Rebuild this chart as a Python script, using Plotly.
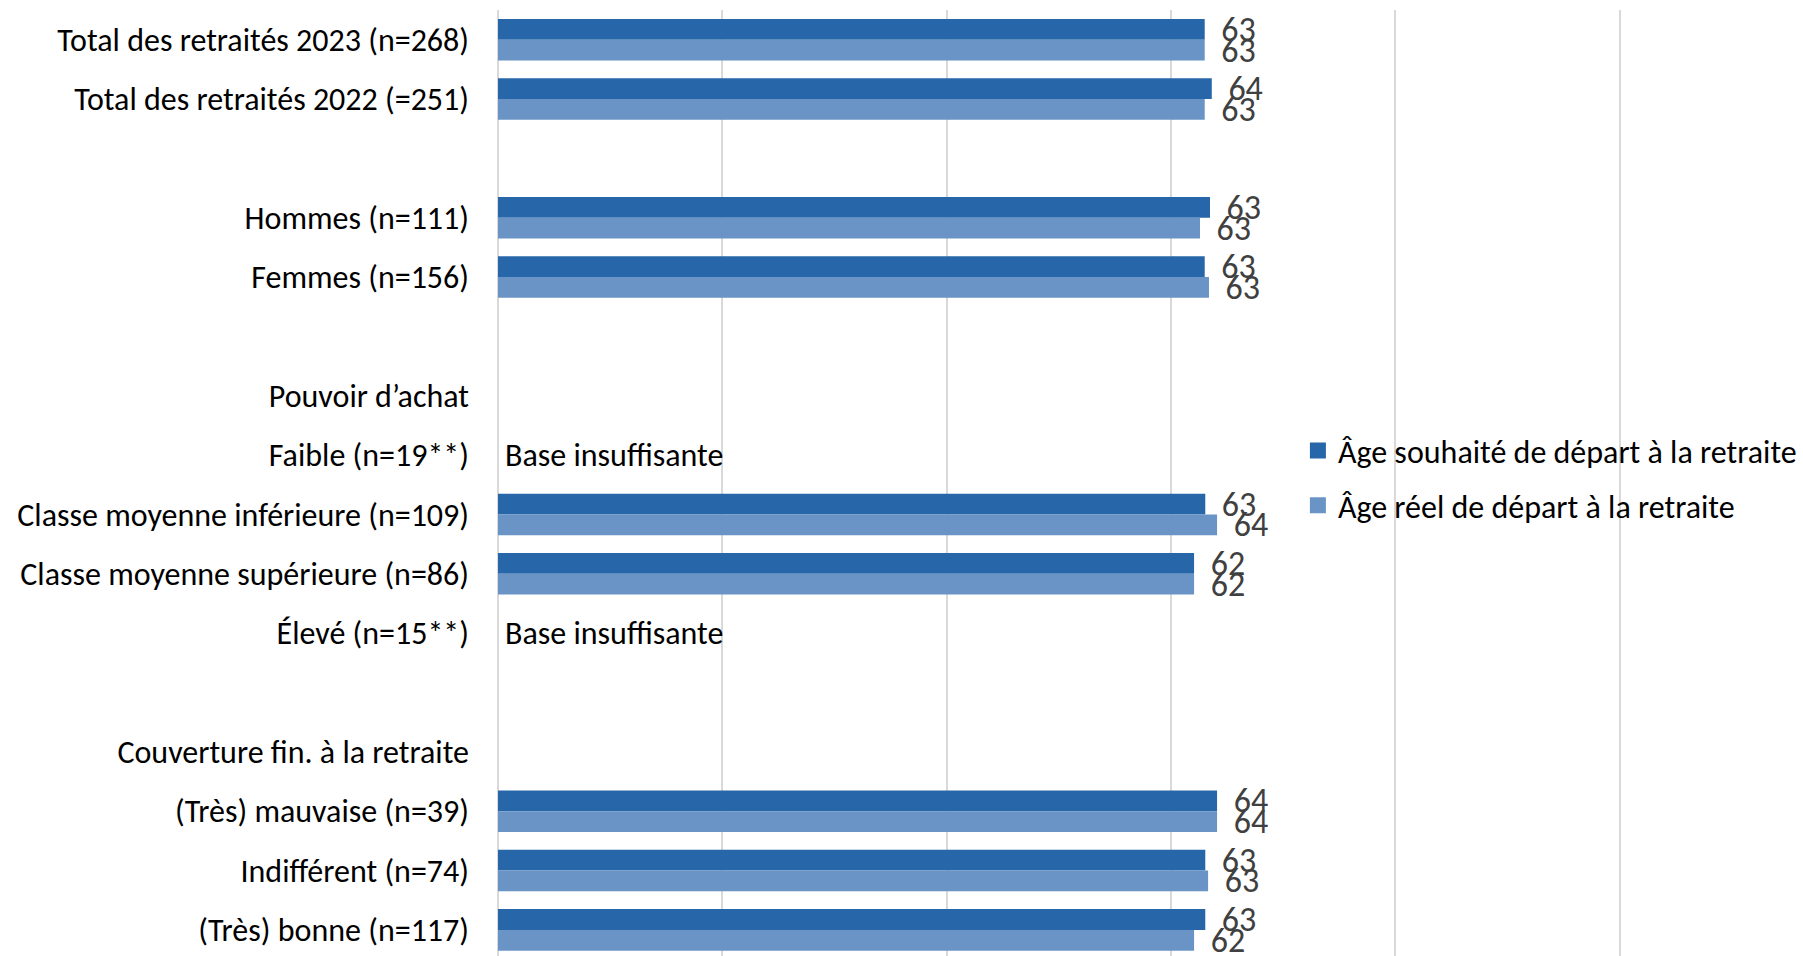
import plotly.graph_objects as go

categories = [
    "Total des retraités 2023 (n=268)",
    "Total des retraités 2022 (=251)",
    " ",
    "Hommes (n=111)",
    "Femmes (n=156)",
    "  ",
    "Pouvoir d’achat",
    "Faible (n=19**)",
    "Classe moyenne inférieure (n=109)",
    "Classe moyenne supérieure (n=86)",
    "Élevé (n=15**)",
    "   ",
    "Couverture fin. à la retraite",
    "(Très) mauvaise (n=39)",
    "Indifférent (n=74)",
    "(Très) bonne (n=117)",
]
age_souhaite = [63.0, 63.63, None, 63.47, 63.0, None, None, None, 63.05, 62.05, None, None, None, 64.1, 63.05, 63.05]
age_reel = [63.0, 63.0, None, 62.58, 63.38, None, None, None, 64.1, 62.05, None, None, None, 64.1, 63.3, 62.05]
insufficient = ["Faible (n=19**)", "Élevé (n=15**)"]
insufficient_text = "Base insuffisante"

series_names = ["Âge souhaité de départ à la retraite", "Âge réel de départ à la retraite"]
colors = ["#2766A9", "#6A94C6"]

FONT = "Carlito, Lato, sans-serif"
FS = 32
FS_VAL = 34

fig = go.Figure()
for name, vals, col, grp in zip(series_names, [age_souhaite, age_reel], colors, ["a", "b"]):
    fig.add_trace(go.Bar(
        y=categories, x=vals, orientation="h", name=name,
        marker=dict(color=col, line=dict(width=0)),
        text=[("\u2009\u2009" + f"{v:.0f}") if v is not None else "" for v in vals],
        textposition="outside", constraintext="none", cliponaxis=False,
        textfont=dict(family=FONT, size=FS_VAL, color="#404040"),
        legendgroup=grp, showlegend=False,
    ))
    # legend entry with a larger square swatch
    fig.add_trace(go.Scatter(
        x=[None], y=[None], mode="markers", name=name,
        marker=dict(symbol="square", size=16, color=col),
        legendgroup=grp, showlegend=True, hoverinfo="skip",
    ))

for cat in insufficient:
    fig.add_annotation(x=0, y=cat, xref="x", yref="y", text=insufficient_text,
                       showarrow=False, xanchor="left", xshift=5,
                       font=dict(family=FONT, size=FS, color="#000000"))

fig.update_layout(
    width=1803, height=956,
    margin=dict(l=498, r=172, t=10, b=0),
    paper_bgcolor="white", plot_bgcolor="white",
    barmode="group", bargap=0.3, bargroupgap=0,
    font=dict(family=FONT, size=FS, color="#000000"),
    showlegend=True,
    legend=dict(x=0.706, xanchor="left", y=0.505, yanchor="middle",
                font=dict(family=FONT, size=FS, color="#000000"),
                bgcolor="rgba(0,0,0,0)", tracegroupgap=10, traceorder="grouped",
                itemsizing="trace"),
    xaxis=dict(range=[0, 101], dtick=20, showticklabels=False, showgrid=True,
               gridcolor="#D9D9D9", gridwidth=2, zeroline=True, zerolinecolor="#D9D9D9",
               zerolinewidth=2, showline=False, fixedrange=True),
    yaxis=dict(categoryorder="array", categoryarray=categories, range=[15.44, -0.5],
               showgrid=False, zeroline=False, showline=False, ticks="",
               ticklabelstandoff=28, tickfont=dict(family=FONT, size=FS, color="#000000")),
)

fig.write_html("out.html")
